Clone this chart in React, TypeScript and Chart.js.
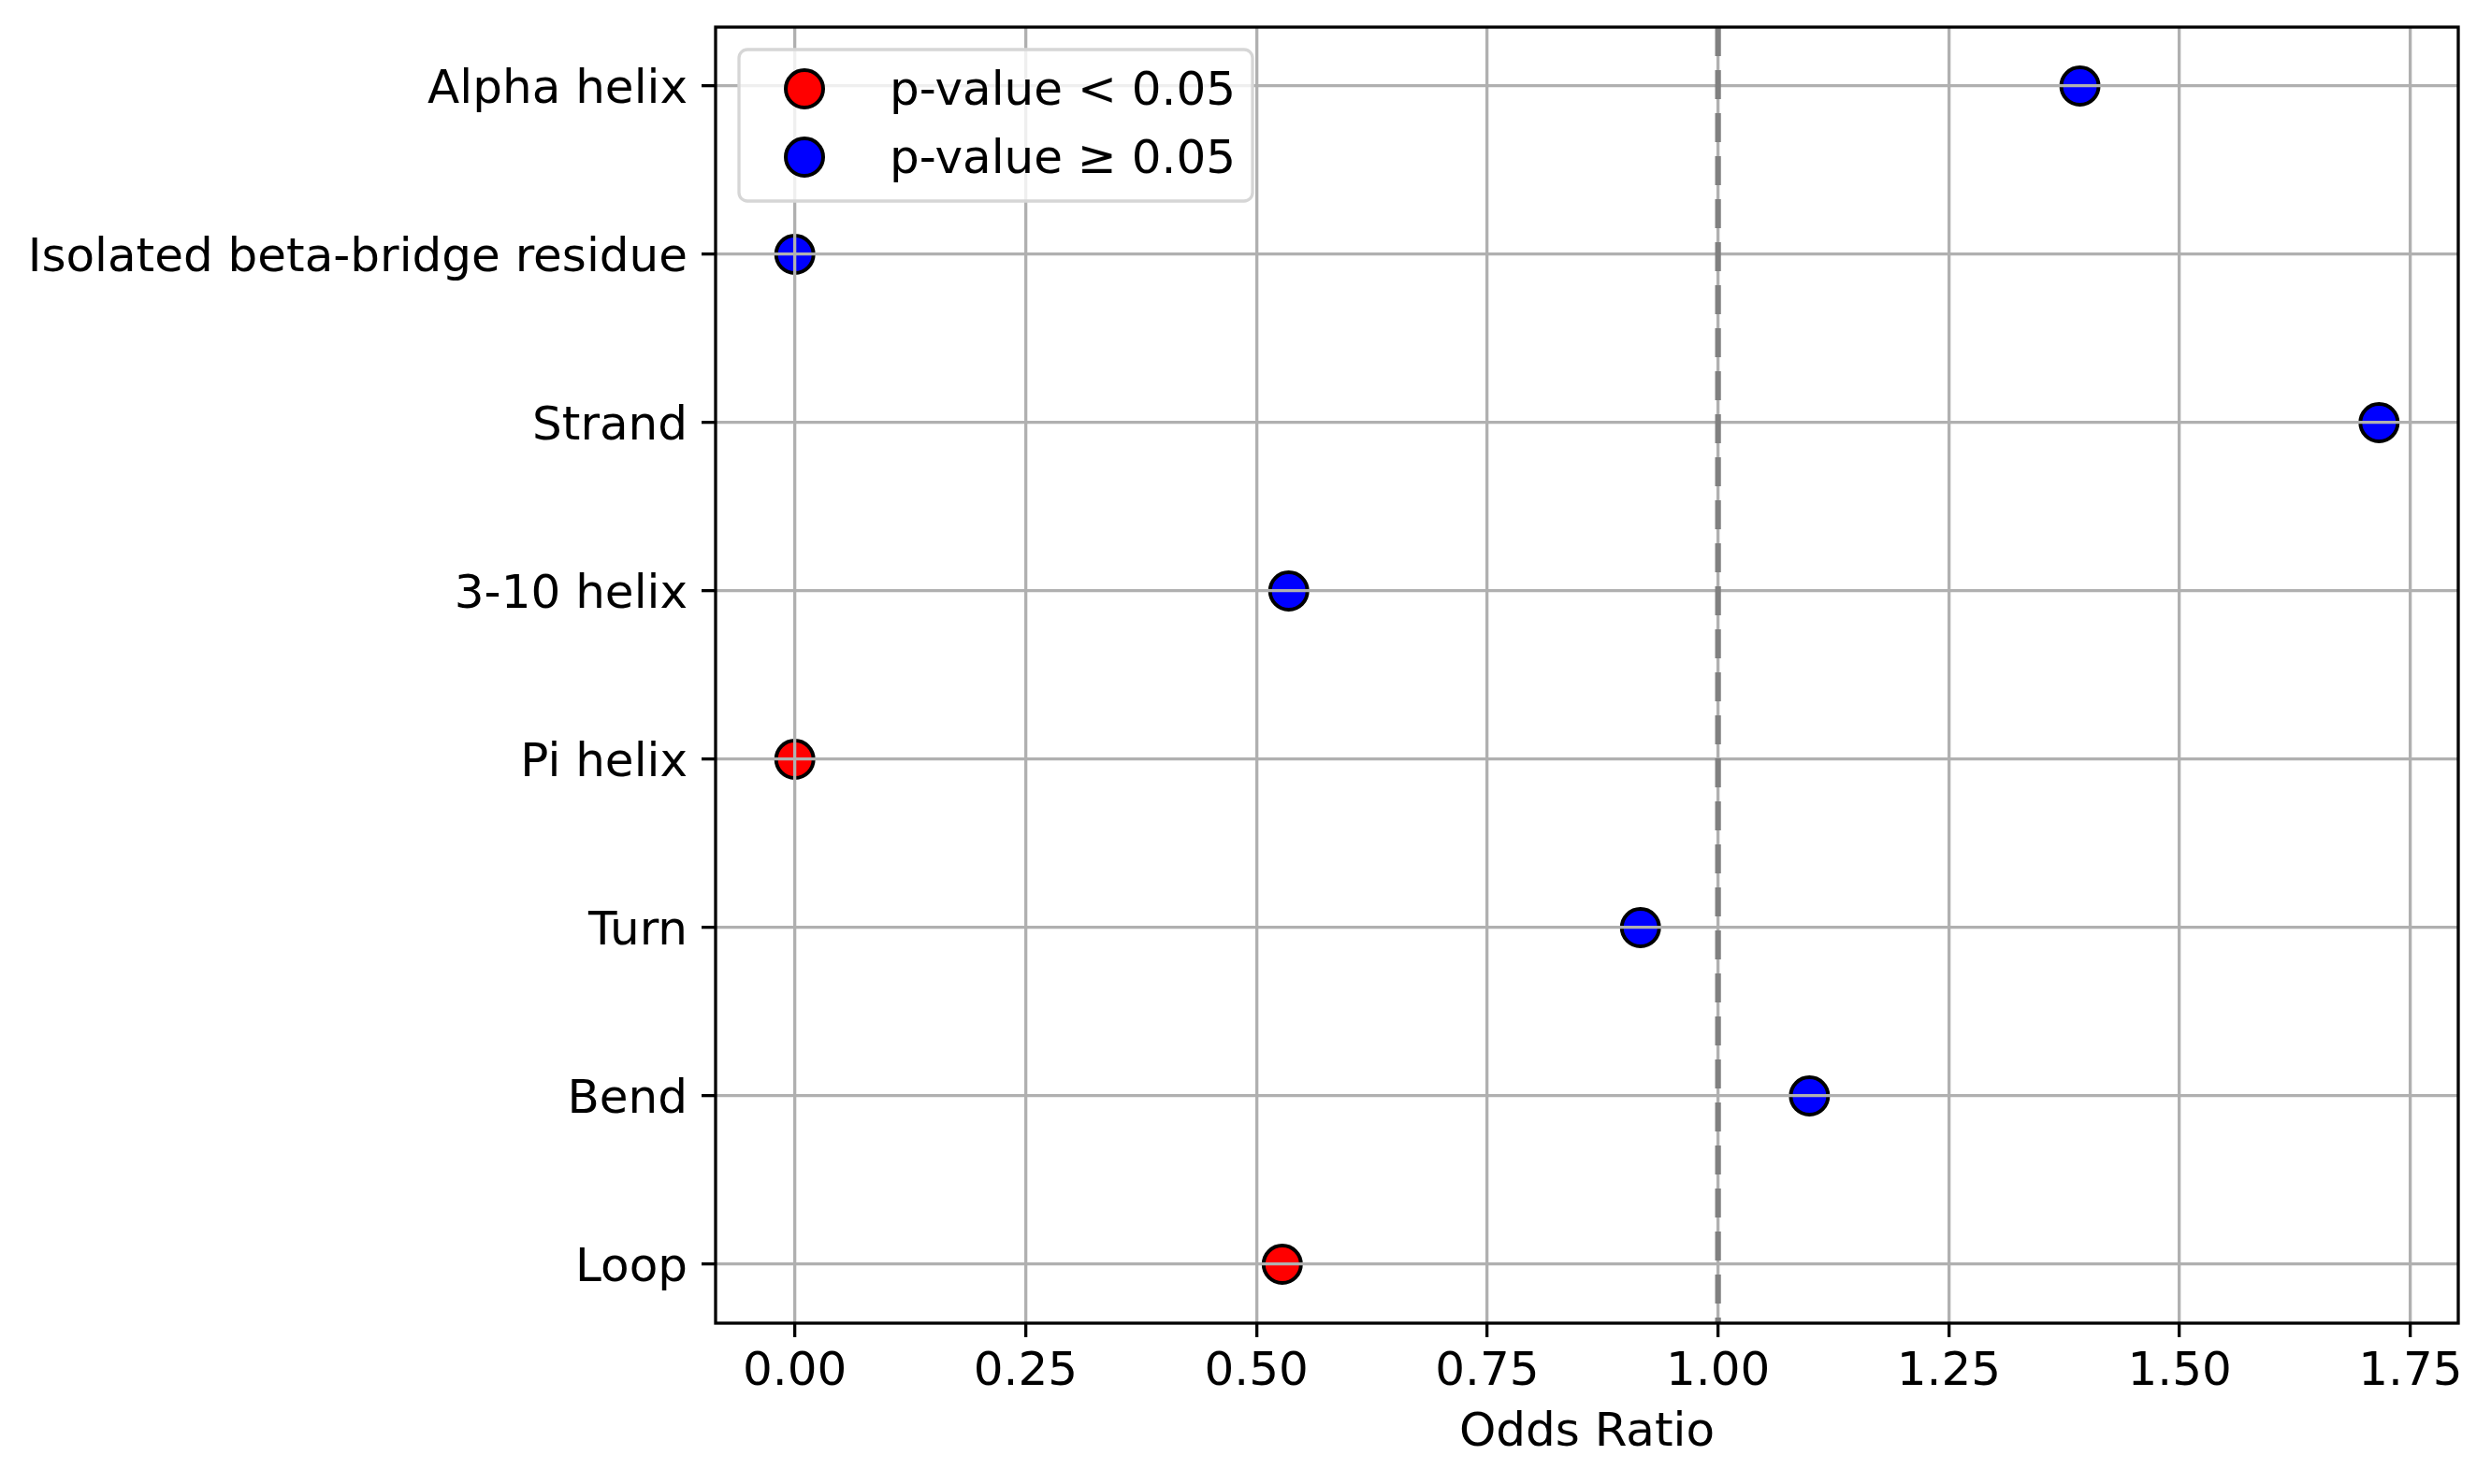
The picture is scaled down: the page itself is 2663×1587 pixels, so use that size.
import React, { useEffect, useRef } from 'react';
import { Chart, registerables } from 'chart.js';

Chart.register(...registerables);

// secondary structure categories, top to bottom
const categories = [
  'Alpha helix',
  'Isolated beta-bridge residue',
  'Strand',
  '3-10 helix',
  'Pi helix',
  'Turn',
  'Bend',
  'Loop',
];
const oddsRatios = [1.392, 0, 1.716, 0.535, 0, 0.916, 1.099, 0.528];
const significant = [false, false, false, false, true, false, false, true];
const xTicks = [0, 0.25, 0.5, 0.75, 1.0, 1.25, 1.5, 1.75];
const refOdds = 1.0;
const legendLabels = ['p-value < 0.05', 'p-value \u2265 0.05'];

const FONT = '"DejaVu Sans", sans-serif';
const FONT_SIZE = 50;

const overlayPlugin = {
  id: 'overlay',
  afterDraw(chart: any) {
    const { ctx, chartArea: a, scales } = chart;
    ctx.save();

    // reference line at OR = 1
    const px = scales.x.getPixelForValue(refOdds);
    ctx.strokeStyle = '#808080';
    ctx.lineWidth = 6.2;
    ctx.setLineDash([31, 15]);
    ctx.beginPath();
    ctx.moveTo(px, a.top);
    ctx.lineTo(px, a.bottom);
    ctx.stroke();
    ctx.setLineDash([]);

    // axes frame
    ctx.strokeStyle = '#000';
    ctx.lineWidth = 3.3;
    ctx.strokeRect(a.left, a.top, a.right - a.left, a.bottom - a.top);

    // legend box
    const lx = a.left + 25;
    const ly = a.top + 24;
    const lw = 549;
    const lh = 162;
    const r = 9;
    ctx.beginPath();
    ctx.moveTo(lx + r, ly);
    ctx.arcTo(lx + lw, ly, lx + lw, ly + lh, r);
    ctx.arcTo(lx + lw, ly + lh, lx, ly + lh, r);
    ctx.arcTo(lx, ly + lh, lx, ly, r);
    ctx.arcTo(lx, ly, lx + lw, ly, r);
    ctx.closePath();
    ctx.fillStyle = 'rgba(255,255,255,0.8)';
    ctx.fill();
    ctx.strokeStyle = '#d6d6d6';
    ctx.lineWidth = 3.3;
    ctx.stroke();

    ctx.font = `${FONT_SIZE}px ${FONT}`;
    ctx.textBaseline = 'middle';
    ctx.textAlign = 'left';
    chart.data.datasets.forEach((ds: any, i: number) => {
      const cy = ly + 42 + i * 73;
      ctx.beginPath();
      ctx.arc(lx + 70, cy, 20, 0, Math.PI * 2);
      ctx.fillStyle = ds.backgroundColor;
      ctx.fill();
      ctx.strokeStyle = '#000';
      ctx.lineWidth = 4;
      ctx.stroke();
      ctx.fillStyle = '#000';
      ctx.fillText(ds.label, lx + 161, cy + 4);
    });

    ctx.restore();
  },
};

const App: React.FC = () => {
  const canvasRef = useRef<HTMLCanvasElement>(null);

  useEffect(() => {
    if (!canvasRef.current) return;

    const points = categories.map((_, i) => ({ x: oddsRatios[i], y: i }));
    const sigPoints = points.filter((_, i) => significant[i]);
    const nonSigPoints = points.filter((_, i) => !significant[i]);

    const span = Math.max(...oddsRatios) - Math.min(...oddsRatios);
    const xMin = Math.min(...oddsRatios) - 0.05 * span;
    const xMax = Math.max(...oddsRatios) + 0.05 * span;

    const font = { family: FONT, size: FONT_SIZE };
    const grid = {
      color: '#b0b0b0',
      lineWidth: 3.3,
      tickColor: '#000',
      tickWidth: 3.3,
      tickLength: 15,
      z: 1,
    };

    const chart = new Chart(canvasRef.current, {
      type: 'scatter',
      data: {
        datasets: [
          {
            label: legendLabels[0],
            data: sigPoints,
            backgroundColor: '#ff0000',
            borderColor: '#000000',
            borderWidth: 4,
            pointRadius: 20,
          },
          {
            label: legendLabels[1],
            data: nonSigPoints,
            backgroundColor: '#0000ff',
            borderColor: '#000000',
            borderWidth: 4,
            pointRadius: 20,
          },
        ],
      },
      options: {
        animation: false,
        responsive: true,
        maintainAspectRatio: false,
        layout: { padding: { top: 29, right: 35, left: 0, bottom: 0 } },
        plugins: {
          legend: { display: false },
          tooltip: { enabled: false },
        },
        scales: {
          x: {
            type: 'linear',
            min: xMin,
            max: xMax,
            bounds: 'data',
            afterBuildTicks: (s: any) => {
              s.ticks = xTicks.map((v) => ({ value: v }));
            },
            afterFit: (s: any) => {
              s.height = 172;
              s.paddingLeft = 0;
              s.paddingRight = 0;
            },
            grid,
            border: { display: false },
            ticks: {
              font,
              color: '#000',
              padding: 8,
              maxRotation: 0,
              autoSkip: false,
              callback: (v: any) => Number(v).toFixed(2),
            },
            title: {
              display: true,
              text: 'Odds Ratio',
              font,
              color: '#000',
              padding: { top: 0, bottom: 24 },
            },
          },
          y: {
            type: 'linear',
            min: -0.35,
            max: categories.length - 1 + 0.35,
            reverse: true,
            bounds: 'data',
            afterBuildTicks: (s: any) => {
              s.ticks = categories.map((_, i) => ({ value: i }));
            },
            afterFit: (s: any) => {
              s.width = 765;
              s.paddingTop = 0;
              s.paddingBottom = 0;
            },
            grid,
            border: { display: false },
            ticks: {
              font,
              color: '#000',
              padding: 15,
              labelOffset: 5,
              autoSkip: false,
              callback: (v: any) => categories[v] ?? '',
            },
          },
        },
      },
      plugins: [overlayPlugin],
    });

    return () => chart.destroy();
  }, []);

  return (
    <div style={{ position: 'absolute', left: 0, top: 0, width: 2663, height: 1587, background: '#fff' }}>
      <canvas ref={canvasRef} />
    </div>
  );
};

export default App;
